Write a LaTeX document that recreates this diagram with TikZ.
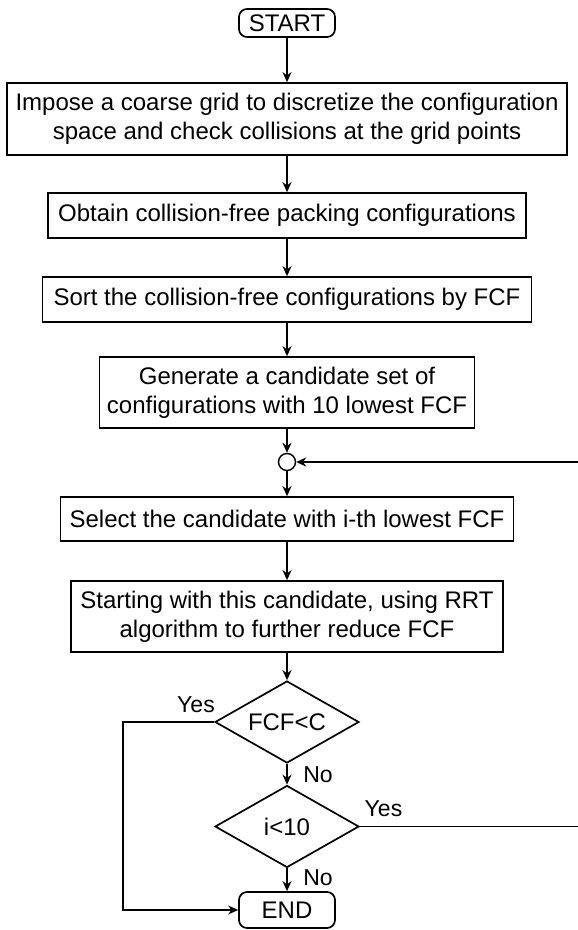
\documentclass[tikz,border=0pt]{standalone}
\usepackage{fontspec}
\setmainfont{Liberation Sans}
\usetikzlibrary{shapes.geometric,arrows.meta}
\begin{document}
\begin{tikzpicture}[x=1pt,y=-1pt,
  font=\fontsize{24}{29}\selectfont,
  line width=1.7pt,
  box/.style={draw, rectangle, align=center, inner sep=0pt},
  term/.style={draw, rectangle, rounded corners=8pt, inner sep=0pt},
  dec/.style={draw, diamond, aspect=1.75, inner sep=0pt, minimum width=144pt, minimum height=82pt},
  junc/.style={draw, circle, inner sep=0pt, minimum size=17pt, line width=1.4pt},
  arr/.style={-{Stealth[length=10pt,width=9pt]}},
  lab/.style={font=\fontsize{23}{27}\selectfont}
]
\useasboundingbox (0,0) rectangle (578,930);

\node[term, minimum width=96pt, minimum height=28pt] (start) at (287,23) {START};
\node[box, minimum width=560pt, minimum height=72pt] (b1) at (287,119)
  {Impose a coarse grid to discretize the configuration\\space and check collisions at the grid points};
\node[box, minimum width=478pt, minimum height=45pt] (b2) at (287,215.5)
  {Obtain collision-free packing configurations};
\node[box, minimum width=489pt, minimum height=45pt] (b3) at (287,299.5)
  {Sort the collision-free configurations by FCF};
\node[box, minimum width=375pt, minimum height=71pt] (b4) at (287,392.5)
  {Generate a candidate set of\\configurations with 10 lowest FCF};
\node[junc] (j) at (287,462) {};
\node[box, minimum width=453pt, minimum height=44pt] (b5) at (287,519)
  {Select the candidate with i-th lowest FCF};
\node[box, minimum width=432pt, minimum height=71pt] (b6) at (287,616.5)
  {Starting with this candidate, using RRT\\algorithm to further reduce FCF};
\node[dec] (d1) at (287,722) {FCF<C};
\node[dec] (d2) at (287,826.5) {i<10};
\node[term, minimum width=96pt, minimum height=36pt] (end) at (287,910) {END};

\coordinate (rin) at (578,462);
\coordinate (rout) at (578,826.5);
\coordinate (lcorner) at (123,722);
\coordinate (lbottom) at (123,910);

\draw[arr] (start) -- (b1);
\draw[arr] (b1) -- (b2);
\draw[arr] (b2) -- (b3);
\draw[arr] (b3) -- (b4);
\draw[arr] (b4) -- (j);
\draw[arr] (rin) -- (j);
\draw[arr] (j) -- (b5);
\draw[arr] (b5) -- (b6);
\draw[arr] (b6) -- (d1);
\draw[arr] (d1) -- (d2);
\draw[arr] (d2) -- (end);
\draw (d2.east) -- (rout);
\draw[arr] (d1.west) -- (lcorner) -- (lbottom) -- (end.west);

\node[lab] (yes1) at (196,705) {Yes};
\node[lab] (no1) at (318,775) {No};
\node[lab] (yes2) at (383.5,808.5) {Yes};
\node[lab] (no2) at (318,877.5) {No};
\end{tikzpicture}
\end{document}
